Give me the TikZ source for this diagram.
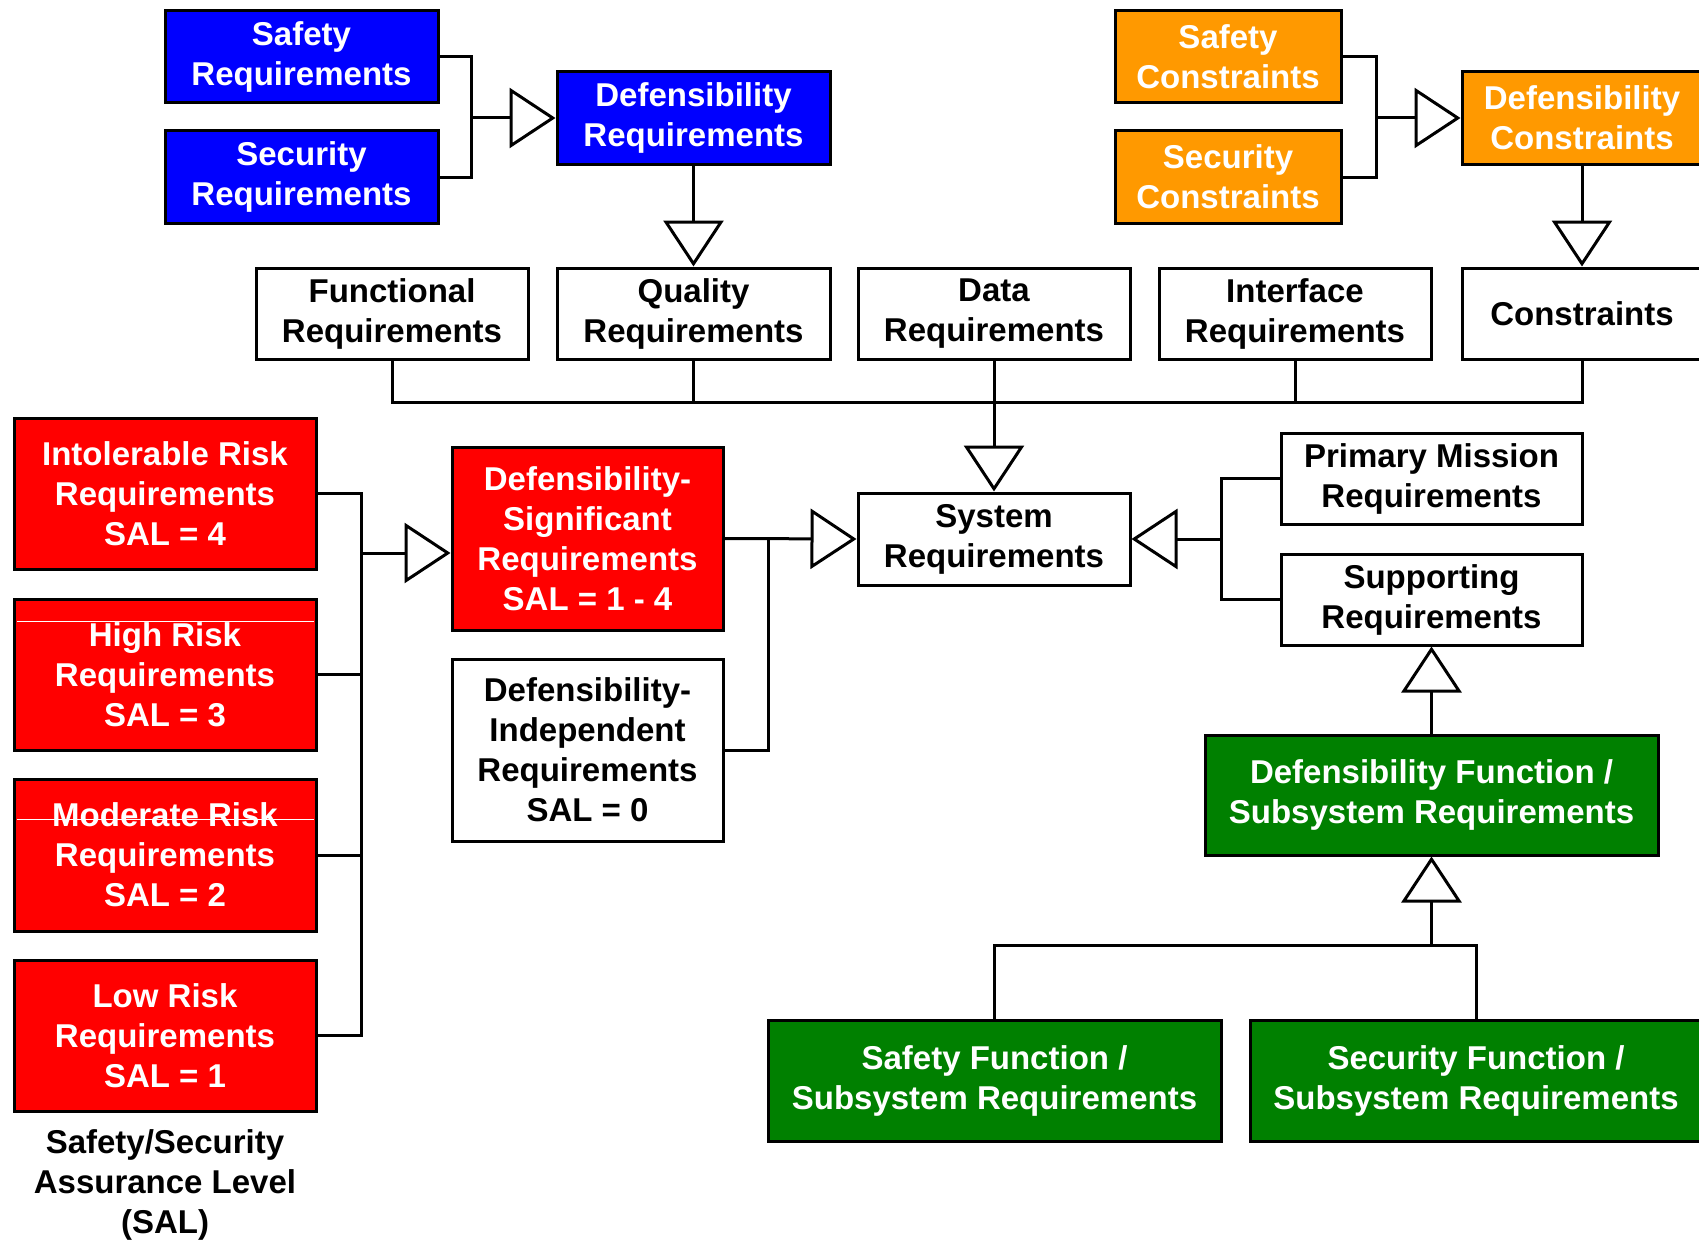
\documentclass[tikz,border=0pt]{standalone}
\usepackage{fontspec}
\setmainfont{Liberation Sans}
\usetikzlibrary{arrows.meta}
\definecolor{rblue}{RGB}{0,0,255}
\definecolor{rorange}{RGB}{255,153,0}
\definecolor{rred}{RGB}{255,0,0}
\definecolor{rgreen}{RGB}{0,128,0}
\tikzset{
  reqbox/.style={draw=black, line width=3pt, inner sep=0pt, align=center,
    font=\bfseries\fontsize{33}{40}\selectfont},
  sz/.style 2 args={minimum width=#1pt, minimum height=#2pt},
  bluebox/.style={reqbox, fill=rblue, text=white},
  orangebox/.style={reqbox, fill=rorange, text=white},
  redbox/.style={reqbox, fill=rred, text=white},
  greenbox/.style={reqbox, fill=rgreen, text=white},
  whitebox/.style={reqbox, fill=white, text=black},
  conn/.style={line width=3pt},
  gen/.style={line width=3pt, -{Triangle[open, length=46pt, width=60pt]}},
  caption/.style={align=center, font=\bfseries\fontsize{33}{40}\selectfont}
}
\begin{document}
\begin{tikzpicture}[x=1pt, y=-1pt]
\clip (0,0) rectangle (1699,1244);
\fill[white] (0,0) rectangle (1699,1244);

% top blue group
\node[bluebox, sz={273}{92}] (sr)   at (301.5,57)  {Safety\\Requirements};
\node[bluebox, sz={273}{92}] (secr) at (301.5,177) {Security\\Requirements};
\node[bluebox, sz={273}{92}] (dr)   at (693.5,118) {Defensibility\\Requirements};

% top orange group
\node[orangebox, sz={226}{92}] (sc)   at (1228,57)  {Safety\\Constraints};
\node[orangebox, sz={226}{92}] (secc) at (1228,177) {Security\\Constraints};
\node[orangebox, sz={240}{92}] (dc)   at (1582,118) {Defensibility\\Constraints};

% white row
\node[whitebox, sz={272}{91}] (fr)  at (392,313.5)   {Functional\\Requirements};
\node[whitebox, sz={273}{91}] (qr)  at (693.5,313.5) {Quality\\Requirements};
\node[whitebox, sz={272}{91}] (dat) at (994,313.5)   {Data\\Requirements};
\node[whitebox, sz={272}{91}] (ifr) at (1295,313.5)  {Interface\\Requirements};
\node[whitebox, sz={240}{91}] (cr)  at (1582,313.5)  {Constraints};

% system
\node[whitebox, sz={272}{92}] (sys) at (994,539) {System\\Requirements};
\node[whitebox, sz={301}{91}] (pm)  at (1431.5,478.5) {Primary Mission\\Requirements};
\node[whitebox, sz={301}{91}] (sup) at (1431.5,599.5) {Supporting\\Requirements};

% green
\node[greenbox, sz={453}{120}] (df)   at (1431.5,795)  {Defensibility Function /\\Subsystem Requirements};
\node[greenbox, sz={453}{121}] (sf)   at (994.5,1080.5) {Safety Function /\\Subsystem Requirements};
\node[greenbox, sz={452}{121}] (secf) at (1476,1080.5)  {Security Function /\\Subsystem Requirements};

% red SAL column
\node[redbox, sz={302}{151}] (intol) at (165,493.5)  {Intolerable Risk\\Requirements\\SAL = 4};
\node[redbox, sz={302}{151}] (high)  at (165,674.5)  {High Risk\\Requirements\\SAL = 3};
\node[redbox, sz={302}{152}] (mod)   at (165,855)    {Moderate Risk\\Requirements\\SAL = 2};
\node[redbox, sz={302}{151}] (low)   at (165,1035.5) {Low Risk\\Requirements\\SAL = 1};
\draw[white, line width=1pt] (17,621) -- (314,621);
\draw[white, line width=1pt] (17,819) -- (314,819);

\node[redbox, sz={271}{183}]   (ds) at (587.5,538.5) {Defensibility-\\Significant\\Requirements\\SAL = 1 - 4};
\node[whitebox, sz={271}{182}] (di) at (587.5,750)   {Defensibility-\\Independent\\Requirements\\SAL = 0};

\node[caption] (salcap) at (165,1185) {Safety/Security\\Assurance Level\\(SAL)};

% junction coordinates
\coordinate (bA) at (471,118);
\coordinate (bB) at (1376,118);
\coordinate (bus) at (994,402);
\coordinate (brB) at (768,539);
\coordinate (brC) at (361,553);
\coordinate (brD) at (1221,539);
\coordinate (bus2) at (1431.5,945);

% connectors
\draw[conn] (sr.east) -| (bA) |- (secr.east);
\draw[gen] (bA) -- (dr.west);
\draw[conn] (sc.east) -| (bB) |- (secc.east);
\draw[gen] (bB) -- (dc.west);
\draw[gen] (dr.south) -- (qr.north);
\draw[gen] (dc.south) -- (cr.north);

\draw[conn] (fr.south) |- (bus) -| (cr.south);
\draw[conn] (qr.south) -- (qr.south |- bus);
\draw[conn] (ifr.south) -- (ifr.south |- bus);
\draw[gen] (dat.south) -- (sys.north);

\draw[conn] (intol.east) -| (brC) |- (low.east);
\draw[conn] (high.east) -- (high.east -| brC);
\draw[conn] (mod.east) -- (mod.east -| brC);
\draw[gen] (brC) -- (brC -| ds.west);

\draw[gen] (ds.east) -- (sys.west);
\draw[conn] (di.east) -| (brB);

\draw[conn] (pm.west) -| (brD) |- (sup.west);
\draw[gen] (brD) -- (sys.east);

\draw[gen] (df.north) -- (sup.south);
\draw[conn] (sf.north) |- (bus2) -| (secf.north);
\draw[gen] (bus2) -- (df.south);
\end{tikzpicture}
\end{document}
